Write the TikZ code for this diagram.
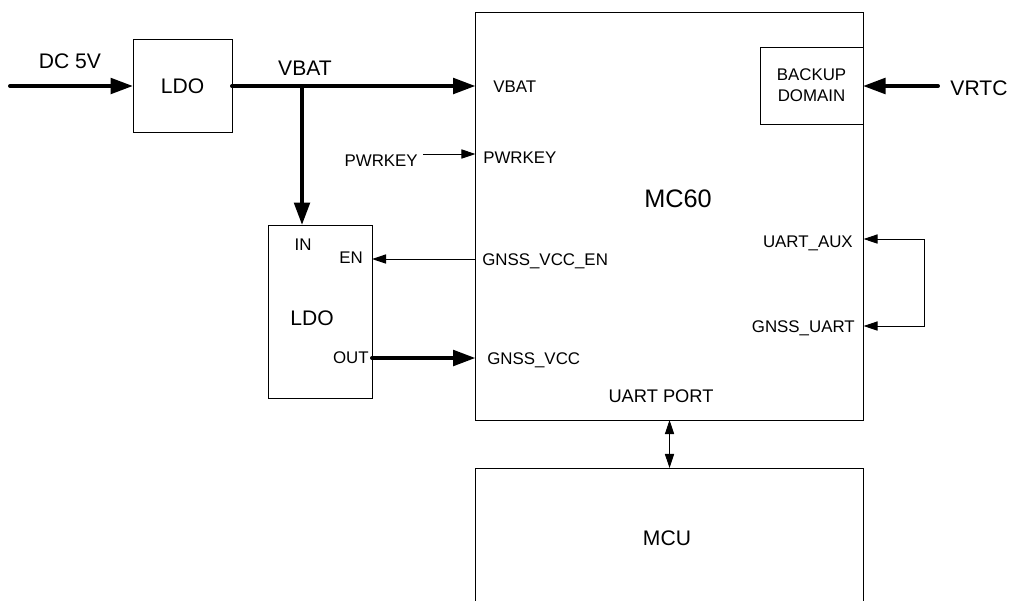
\documentclass[tikz,border=0pt]{standalone}
\usepackage{fontspec}
\setmainfont{Liberation Sans}
\usetikzlibrary{arrows.meta}
\newcommand{\pxu}{0.025cm}
\tikzset{
	blk/.style={draw, line width=0.7pt, inner sep=0pt, outer sep=0pt},
	bus/.style={line width=2.8pt, line cap=round, -{Triangle[length=16pt,width=11pt]}},
	sig/.style={line width=0.7pt, -{Triangle[length=10pt,width=6.5pt]}},
	pin/.style={inner sep=0pt, font=\fontsize{12}{15}\selectfont},
	big/.style={inner sep=0pt, font=\fontsize{15}{18}\selectfont},
}

\begin{document}
\begin{tikzpicture}[x=\pxu, y=-\pxu]
			%%%%% START %%%%%
			\useasboundingbox (0, 0) rectangle (1010, 600);
			
			% blocks
			\node[blk, big, minimum width=99*\pxu, minimum height=93*\pxu] (ldoa) at (182.5, 86) {LDO};
			\node[blk, minimum width=104*\pxu, minimum height=173*\pxu] (ldob) at (320, 311.5) {};
			\node[blk, minimum width=388*\pxu, minimum height=408*\pxu] (mc60) at (669.5, 216) {};
			\node[blk, pin, align=center, minimum width=103*\pxu, minimum height=77*\pxu] (backup) at (811.5, 85.5) {BACKUP\\DOMAIN};
			\node[blk, minimum width=388*\pxu, minimum height=160*\pxu] (mcu) at (669.5, 548) {};
			
			% block labels
			\node[big, anchor=base] (ldobl) at (312, 325) {LDO};
			\node[pin, anchor=base] (ldoin) at (303, 250) {IN};
			\node[pin, anchor=base east] (ldoen) at (363, 263) {EN};
			\node[pin, anchor=base east] (ldoout) at (369, 363) {OUT};
			\node[inner sep=0pt, anchor=base, font=\fontsize{18}{21}\selectfont] (mc60l) at (678, 207) {MC60};
			\node[big, anchor=base] (mcul) at (667, 545) {MCU};
			\node[pin, anchor=base, font=\fontsize{13}{15}\selectfont] (uartport) at (661, 402) {UART PORT};
			
			% pins of MC60
			\node[pin, anchor=base west] (pvbat) at (493, 92) {VBAT};
			\node[pin, anchor=base west] (ppwrkey) at (483, 163) {PWRKEY};
			\node[pin, anchor=base west] (pgnssen) at (482, 265) {GNSS\_VCC\_EN};
			\node[pin, anchor=base west] (pgnssvcc) at (487, 364) {GNSS\_VCC};
			\node[pin, anchor=base east] (puaux) at (853, 247) {UART\_AUX};
			\node[pin, anchor=base east] (pguart) at (855, 332) {GNSS\_UART};
			
			% outside labels
			\node[big, anchor=base] (dc5v) at (70, 68) {DC 5V};
			\node[big, anchor=base] (vbat) at (305, 75) {VBAT};
			\node[big, anchor=base] (vrtc) at (979, 95) {VRTC};
			\node[pin, anchor=base east] (pwrkey) at (418, 166) {PWRKEY};
			
			% free ends
			\coordinate (dcin) at (10, 86);
			\coordinate (vbj) at (302, 86);
			\coordinate (vrtcin) at (938, 86);
			\coordinate (pwrin) at (423, 154);
			\coordinate (enrow) at (0, 259);
			\coordinate (outrow) at (0, 358);
			\coordinate (auxrow) at (924, 239);
			\coordinate (gnrow) at (924, 326);
			
			% power
			\draw[bus] (dcin) -- (ldoa.west);
			\draw[bus] (ldoa.east) -- (mc60.west |- ldoa.east);
			\draw[bus] (vbj) -- (ldob.north -| vbj);
			\draw[bus] (ldob.east |- outrow) -- (mc60.west |- outrow);
			\draw[bus] (vrtcin) -- (backup.east |- vrtcin);
			
			% signals
			\draw[sig] (pwrin) -- (mc60.west |- pwrin);
			\draw[sig] (mc60.west |- enrow) -- (ldob.east |- enrow);
			\draw[sig, {Triangle[length=10pt,width=6.5pt]}-{Triangle[length=10pt,width=6.5pt]}] (mc60.east |- auxrow) -- (auxrow) -- (gnrow) -- (mc60.east |- gnrow);
			\draw[sig, {Triangle[length=10pt,width=6.5pt]}-{Triangle[length=10pt,width=6.5pt]}] (mc60.south) -- (mcu.north);
			
			%%%%% END %%%%%
\end{tikzpicture}
\end{document}
